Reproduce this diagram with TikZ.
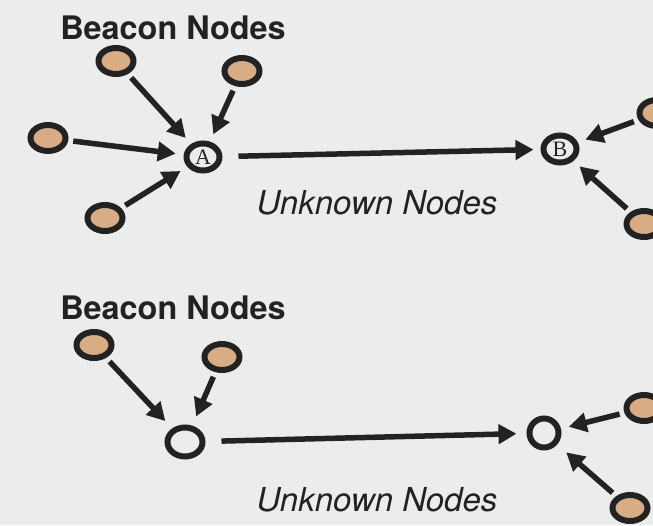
\documentclass[tikz,border=0pt]{standalone}
\usepackage{fontspec}
\setmainfont{TeX Gyre Heros}
\newfontfamily\letterfont{Liberation Serif}
\usetikzlibrary{arrows.meta,shapes.geometric}
\definecolor{bg}{HTML}{ECECEC}
\definecolor{beaconfill}{HTML}{D8AD86}
\definecolor{ink}{HTML}{222222}
\begin{document}
\begin{tikzpicture}[x=1pt,y=-1pt,
  beacon/.style={ellipse,draw=ink,line width=6pt,fill=beaconfill,minimum width=35pt,minimum height=26pt,inner sep=0pt},
  unknown/.style={ellipse,draw=ink,line width=6pt,fill=bg,minimum width=33pt,minimum height=27pt,inner sep=0pt,font=\letterfont\fontsize{22}{22}\selectfont,text=ink},
  link/.style={draw=ink,line width=5.5pt,-{Triangle[length=18pt,width=19pt]},shorten >=8pt,shorten <=5pt},
  title/.style={font=\bfseries\fontsize{32.4}{33}\selectfont,text=ink,inner sep=0pt},
  caption/.style={font=\itshape\fontsize{33}{34}\selectfont,text=ink,inner sep=0pt}]
\fill[bg] (0,0) rectangle (653,525);
\useasboundingbox (0,0) rectangle (653,525);
% top
\node[title] (t1) at (173,28) {Beacon Nodes};
\node[caption] (c1) at (377,203) {Unknown Nodes};
\node[beacon] (b1) at (116,61) {};
\node[beacon] (b2) at (242,71) {};
\node[beacon] (b3) at (48,138) {};
\node[beacon] (b4) at (105,218) {};
\node[beacon] (b5) at (657,113) {};
\node[beacon] (b6) at (644,224) {};
\node[unknown] (A) at (203,157) {A};
\node[unknown] (B) at (560,149) {B};
\draw[link] (b1) -- (A);
\draw[link] (b2) -- (A);
\draw[link] (b3) -- (A);
\draw[link] (b4) -- (A);
\draw[link] (b5) -- (B);
\draw[link] (b6) -- (B);
\draw[link,shorten <=16pt,shorten >=7pt] (A) -- (B);
% bottom
\node[title] (t2) at (173,308) {Beacon Nodes};
\node[caption] (c2) at (377,500) {Unknown Nodes};
\node[beacon] (b7) at (94,345) {};
\node[beacon] (b8) at (222,357) {};
\node[beacon] (b9) at (644,408) {};
\node[beacon] (b10) at (630,508) {};
\node[unknown,minimum width=35pt,minimum height=29pt] (C) at (185,442) {};
\node[unknown,minimum width=29pt,minimum height=29pt] (D) at (544,433) {};
\draw[link,shorten >=10pt] (b7) -- (C);
\draw[link,shorten >=10pt] (b8) -- (C);
\draw[link] (b9) -- (D);
\draw[link,shorten >=12pt] (b10) -- (D);
\draw[link,shorten <=16pt,shorten >=10pt] (C) -- (D);
\end{tikzpicture}
\end{document}
